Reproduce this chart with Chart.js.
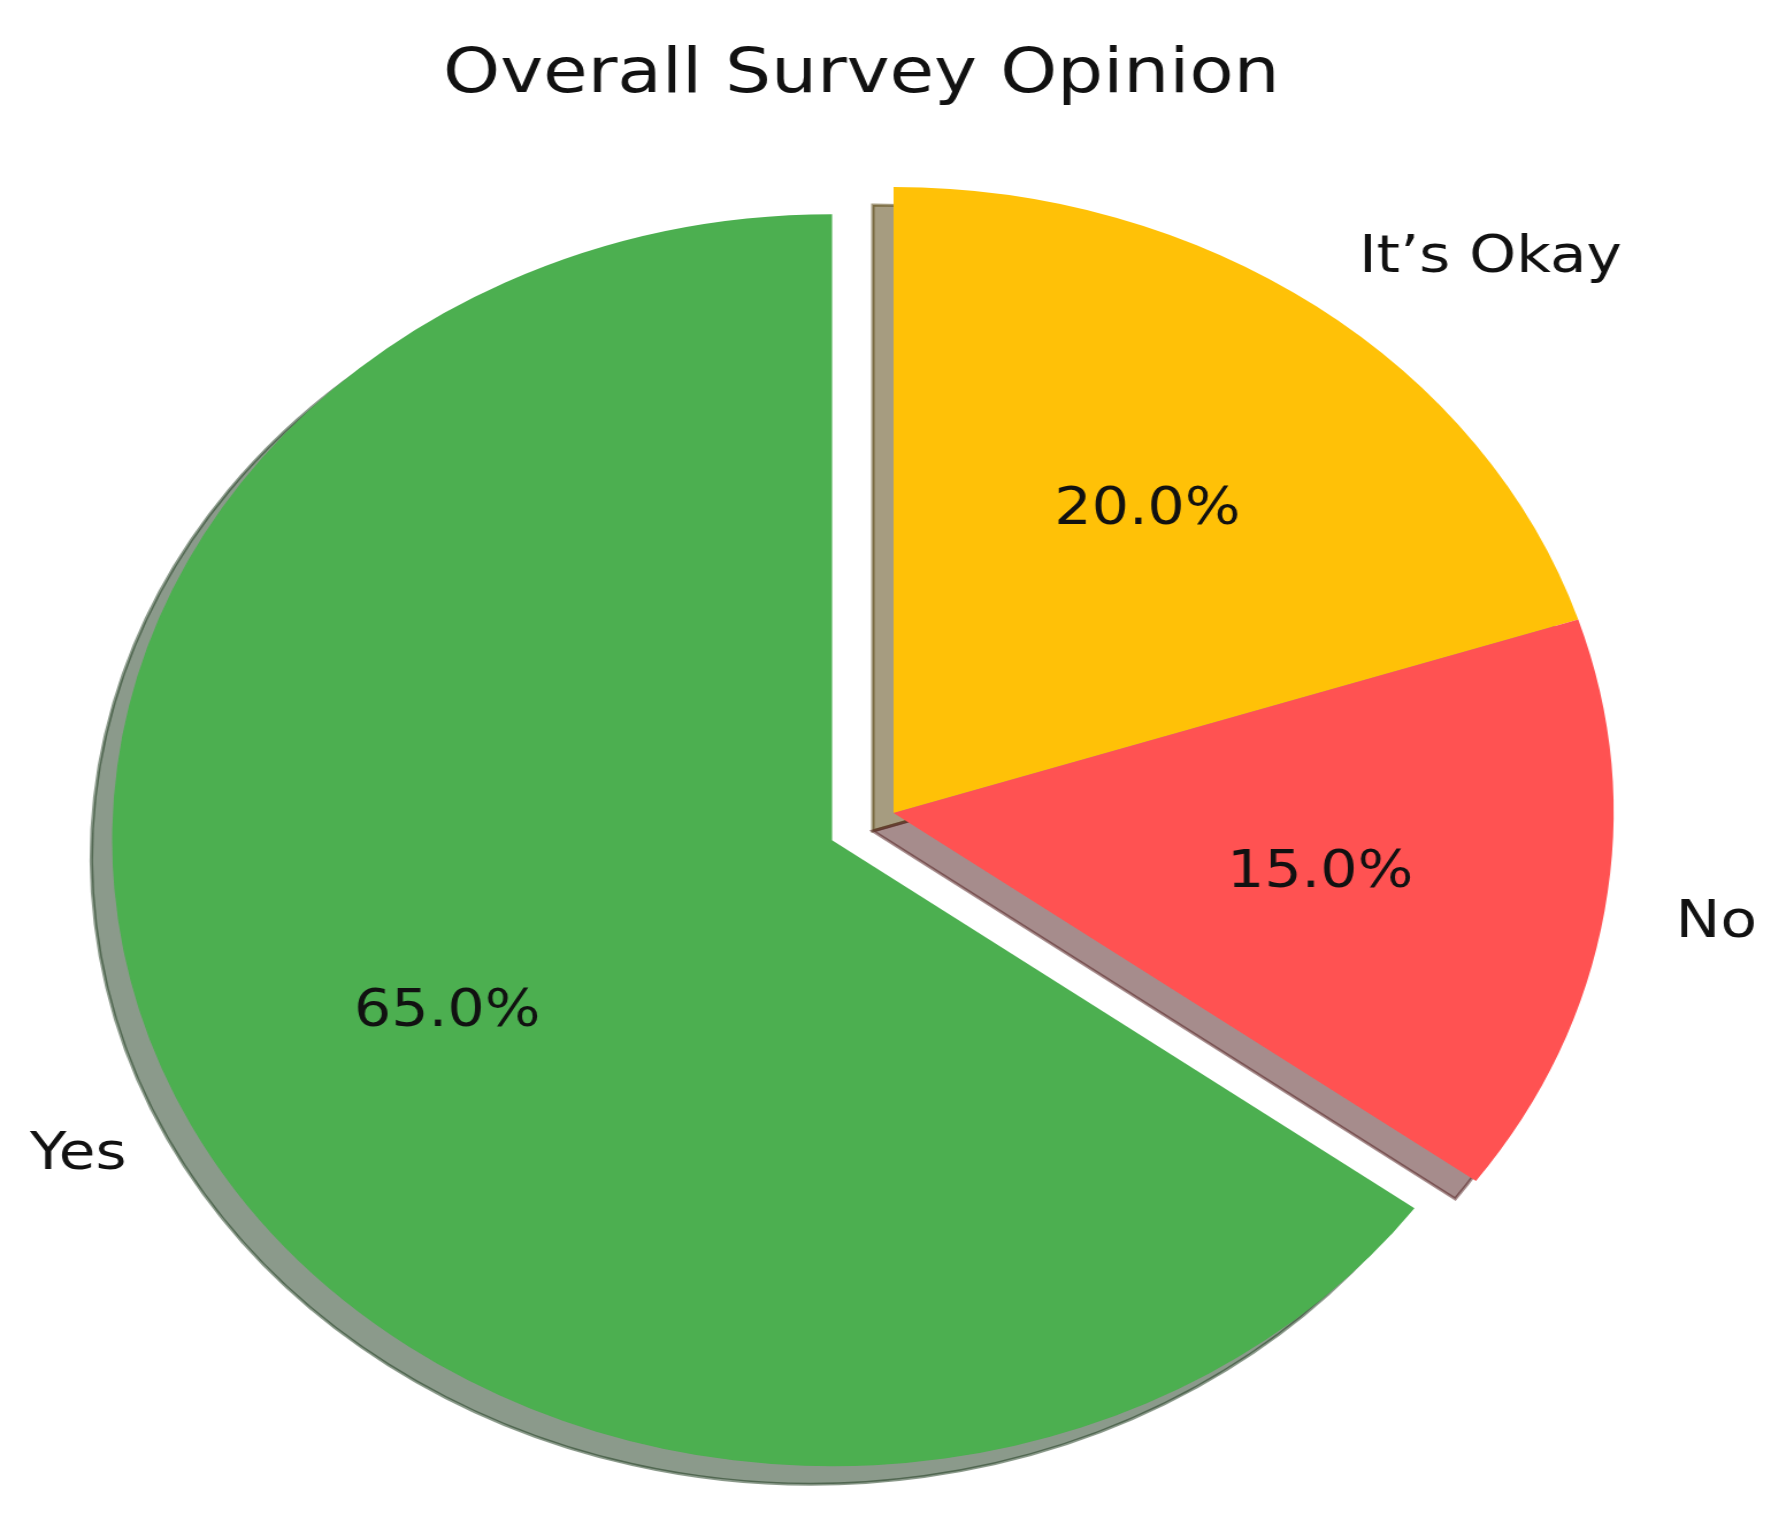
<!DOCTYPE html>
<html>
<head>
<meta charset="utf-8">
<script src="https://cdn.jsdelivr.net/npm/chart.js@4.4.1/dist/chart.umd.min.js"></script>
<style>
  html, body { margin: 0; padding: 0; background: #fff; overflow: hidden; }
  /* the reference is stretched sideways, text included */
  #wrap { width: 1544px; height: 1535px; transform: scaleX(1.15); transform-origin: 0 0; }
</style>
</head>
<body>
<div id="wrap"><canvas id="chart"></canvas></div>
<script>
const chartTitle = 'Overall Survey Opinion';
const labels = ['It’s Okay', 'No', 'Yes'];
const shares = [20, 15, 65];
const colors = ['#FFC107', '#FF5252', '#4CAF50'];
const explode = [0, 0, 60];

const FONT = '"DejaVu Sans", Verdana, sans-serif';

// shadow colour like matplotlib: 0.3 * face colour at half alpha
function shadowColor(hex) {
    const n = parseInt(hex.slice(1), 16);
    const r = Math.round(((n >> 16) & 255) * 0.3);
    const g = Math.round(((n >> 8) & 255) * 0.3);
    const b = Math.round((n & 255) * 0.3);
    return `rgba(${r},${g},${b},0.5)`;
}

// move exploded slices outwards along their middle angle (pure shift, no resize)
const pieExplode = {
    id: 'pieExplode',
    afterDatasetUpdate(chart, args) {
        if (args.index !== 0) return;
        args.meta.data.forEach((arc, i) => {
            const mid = (arc.startAngle + arc.endAngle) / 2;
            arc.x += Math.cos(mid) * explode[i];
            arc.y += Math.sin(mid) * explode[i];
        });
    }
};

const pieShadow = {
    id: 'pieShadow',
    beforeDatasetsDraw(chart) {
        const ctx = chart.ctx;
        ctx.save();
        chart.getDatasetMeta(0).data.forEach((arc, i) => {
            const x = arc.x - 18, y = arc.y + 18;
            ctx.beginPath();
            ctx.moveTo(x, y);
            ctx.arc(x, y, arc.outerRadius, arc.startAngle, arc.endAngle);
            ctx.closePath();
            ctx.fillStyle = shadowColor(colors[i]);
            ctx.strokeStyle = shadowColor(colors[i]);
            ctx.lineWidth = 3;
            ctx.fill();
            ctx.stroke();
        });
        ctx.restore();
    }
};

const pieText = {
    id: 'pieText',
    afterDatasetsDraw(chart) {
        const ctx = chart.ctx;
        ctx.save();
        ctx.fillStyle = '#111';
        ctx.textBaseline = 'middle';
        chart.getDatasetMeta(0).data.forEach((arc, i) => {
            const mid = (arc.startAngle + arc.endAngle) / 2;
            const r = arc.outerRadius;
            ctx.font = '51px ' + FONT;
            ctx.textAlign = 'center';
            ctx.fillText(shares[i].toFixed(1) + '%', arc.x + Math.cos(mid) * r * 0.6, arc.y + Math.sin(mid) * r * 0.6 + 2);
            const lx = arc.x + Math.cos(mid) * r * 1.1;
            const ly = arc.y + Math.sin(mid) * r * 1.1;
            ctx.font = '52px ' + FONT;
            ctx.textAlign = lx > arc.x ? 'left' : 'right';
            ctx.fillText(labels[i], lx, ly + 3);
        });
        ctx.font = '63px ' + FONT;
        ctx.textAlign = 'center';
        ctx.textBaseline = 'alphabetic';
        ctx.fillText(chartTitle, 749, 92);
        ctx.restore();
    }
};

const chart = document.querySelector('#chart').getContext('2d');

new Chart(chart, {
    type: 'pie',
    data: {
        labels: labels,
        datasets: [
            {
                data: shares,
                backgroundColor: colors,
                borderWidth: 0,
                hoverOffset: 0,
                radius: 626
            }
        ]
    },
    options: {
        responsive: true,
        maintainAspectRatio: false,
        animation: false,
        layout: { padding: { left: 10, right: 0, top: 91, bottom: 0 } },
        plugins: {
            legend: { display: false },
            tooltip: { enabled: false }
        }
    },
    plugins: [pieExplode, pieShadow, pieText]
});
</script>
</body>
</html>
